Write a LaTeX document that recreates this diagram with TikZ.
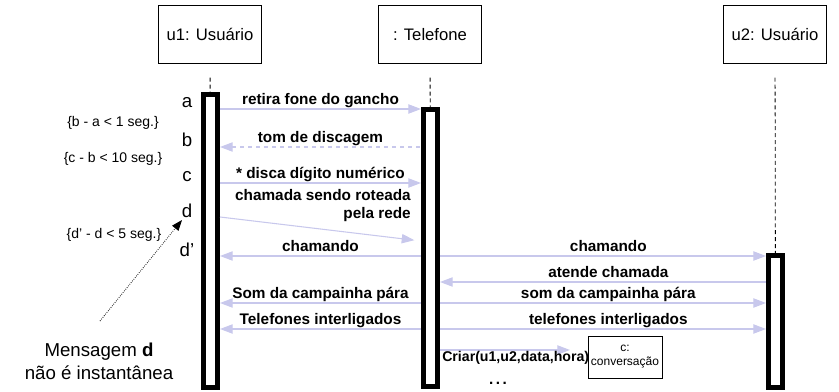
\documentclass[tikz,border=0pt]{standalone}
\usepackage{fontspec}
\setmainfont{Liberation Sans}
\usetikzlibrary{arrows.meta}

\definecolor{msgcolor}{RGB}{200,200,236}

\tikzset{
  obj/.style={draw, line width=.75pt, minimum width=77pt, minimum height=44pt,
    font=\fontsize{12.5pt}{14pt}\selectfont},
  life/.style={dash pattern=on 3pt off 2.2pt, line width=.6pt, shorten <=10pt},
  act/.style={draw, line width=3.75pt, fill=white, minimum width=10.5pt, inner sep=0},
  msg/.style={color=msgcolor, line width=.8pt},
  lbl/.style={text=black, font=\fontsize{11.5pt}{13.5pt}\selectfont\bfseries,
    anchor=base, yshift=3.5pt, inner sep=0},
  tick/.style={font=\fontsize{14pt}{15pt}\selectfont},
  cond/.style={font=\fontsize{10.5pt}{12pt}\selectfont}
}

\begin{document}
\begin{tikzpicture}[x=.75pt, y=-.75pt, >={Triangle[length=9.5pt, width=7pt]}]
  \useasboundingbox (0, 0) rectangle (839, 392);

  \node [obj] (u1) at (210, 34.5) {u1: Usuário};
  \node [obj] (tel) at (430, 34.5) {: Telefone};
  \node [obj] (u2) at (775, 34.5) {u2: Usuário};

  \node [act, minimum height=219pt] (u1act) at (210.5, 241) {};
  \node [act, minimum height=208pt] (telact) at (430.5, 248.3) {};
  \node [act, minimum height=98.6pt] (u2act) at (775.5, 321.3) {};

  \draw [life] (u1) to (u1act);
  \draw [life] (tel) to (telact);
  \draw [life] (u2) to (u2act);

  \draw [msg, ->] (u1act.east |- 0, 109) to node [lbl] (m1) {retira fone do gancho} (telact.west |- 0, 109);
  \draw [msg, dash pattern=on 3pt off 3pt, <-] (u1act.east |- 0, 147) to node [lbl] (m2) {tom de discagem} (telact.west |- 0, 147);
  \draw [msg, ->] (u1act.east |- 0, 183) to node [lbl] (m3) {* disca dígito numérico} (telact.west |- 0, 183);
  \draw [msg, ->, shorten >=5pt] (u1act.east |- 0, 217) to (telact.west |- 0, 241);
  \node [lbl, align=right, anchor=south east, yshift=0pt] (m4) at (411, 227) {chamada sendo roteada\\pela rede};

  \foreach \n/\y/\l/\r in {ch/256/chamando/chamando, som/303/Som da campainha pára/som da campainha pára, fim/329/Telefones interligados/telefones interligados}
  {
    \draw [msg, <-] (u1act.east |- 0, \y) to node [lbl] (\n l) {\l} (telact.west |- 0, \y);
    \draw [msg, ->] (telact.east |- 0, \y) to node [lbl, xshift=4pt] (\n r) {\r} (u2act.west |- 0, \y);
  }
  \draw [msg, <-] (telact.east |- 0, 282) to node [lbl, xshift=4pt] (atende) {atende chamada} (u2act.west |- 0, 282);

  \node [draw, line width=.6pt, minimum width=55.5pt, minimum height=31.5pt, align=center, inner sep=0,
    font=\fontsize{9pt}{10.5pt}\selectfont] (conv) at (625, 357) {c:\\conversação};
  \coordinate (crend) at (570, 350);
  \draw [msg, ->] (telact.east |- crend) to (crend);
  \node [lbl, anchor=base west, yshift=0pt, font=\fontsize{10.6pt}{13pt}\selectfont\bfseries] (criar) at (442, 366) {Criar(u1,u2,data,hora)};
  \node [lbl, yshift=0pt] (etc) at (498, 389) {.\,.\,.};

  \foreach \n/\t/\y in {ta/a/103, tb/b/140, tc/c/177, td/d/211, tdd/d'/250}
    \node [tick] (\n) at (187, \y) {\t};

  \node [cond] (ba) at (113, 123) {\{b - a < 1 seg.\}};
  \node [cond] (cb) at (113, 159) {\{c - b < 10 seg.\}};
  \node [cond] (dd) at (114, 235) {\{d' - d < 5 seg.\}};

  \node [align=center, font=\fontsize{14pt}{17pt}\selectfont] (msgd) at (99, 361) {Mensagem \textbf{d}\\não é instantânea};
  \coordinate (mtail) at (100, 321);
  \coordinate (mhead) at (182, 220);
  \draw [densely dotted, line width=.6pt, -{Triangle[length=8pt, width=6pt]}] (mtail) to (mhead);

\end{tikzpicture}
\end{document}
